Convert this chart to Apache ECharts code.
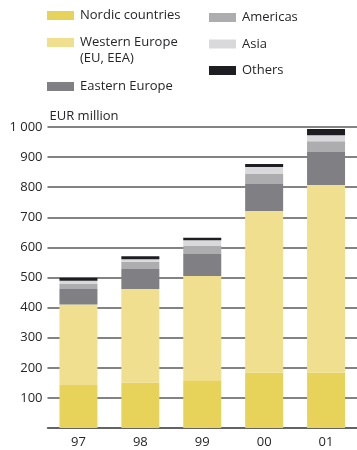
<!DOCTYPE html>
<html>
<head>
<meta charset="utf-8">
<script src="https://cdn.jsdelivr.net/npm/echarts@6/dist/echarts.min.js"></script>
<style>
  html, body { margin: 0; padding: 0; background: #fff; }
  #chart { width: 357px; height: 450px; }
</style>
</head>
<body>
<div id="chart"></div>
<script>
// Net sales by market area, EUR million
const years = ['97', '98', '99', '00', '01'];
const nordic = [143, 150, 159, 184, 184];
const westernEurope = [267, 312, 346, 537, 623];
const easternEurope = [52, 66, 73, 90, 110];
const americas = [16, 24, 27, 33, 36];
const asia = [11, 9, 19, 23, 20];
const others = [10, 10, 8, 10, 20];
const yTicks = [0, 100, 200, 300, 400, 500, 600, 700, 800, 900, 1000];

const FONT = 'Open Sans';
const TEXT = '#26262a';

const seriesDefs = [
  { name: 'Nordic countries', data: nordic, color: '#e8d35a' },
  { name: 'Western Europe', data: westernEurope, color: '#f0df8f' },
  { name: 'Eastern Europe', data: easternEurope, color: '#808084' },
  { name: 'Americas', data: americas, color: '#adadb0' },
  { name: 'Asia', data: asia, color: '#d9d9db' },
  { name: 'Others', data: others, color: '#1e1e22' }
];

function legendBlock(names, left, top, gap) {
  return {
    show: true,
    orient: 'vertical',
    left: left,
    top: top,
    padding: 0,
    itemGap: gap,
    itemWidth: 27,
    itemHeight: 9,
    icon: 'rect',
    selectedMode: false,
    data: names,
    textStyle: { fontFamily: FONT, fontSize: 13, color: TEXT, padding: [0, 0, 0, 1] }
  };
}

const chart = echarts.init(document.getElementById('chart'), null, { renderer: 'canvas' });

chart.setOption({
  animation: false,
  backgroundColor: '#fff',
  legend: [
    legendBlock(['Nordic countries'], 47, 9, 0),
    legendBlock(['Western Europe'], 47, 36, 0),
    legendBlock(['Eastern Europe'], 47, 80, 0),
    legendBlock(['Americas', 'Asia', 'Others'], 209, 11, 13.5)
  ],
  graphic: [
    {
      type: 'text',
      left: 80,
      top: 52,
      style: { text: '(EU, EEA)', fontFamily: FONT, fontSize: 13, fill: TEXT }
    }
  ],
  grid: { left: 47.5, right: -4, top: 127, bottom: 22, containLabel: false },
  xAxis: {
    type: 'category',
    data: years,
    axisLine: { show: true, lineStyle: { color: '#5a5a5a', width: 1.5 } },
    axisTick: { show: false },
    axisLabel: { fontFamily: FONT, fontSize: 13, color: TEXT, margin: 8 }
  },
  yAxis: {
    type: 'value',
    min: yTicks[0],
    max: yTicks[yTicks.length - 1],
    interval: 100,
    name: 'EUR million',
    nameLocation: 'end',
    nameGap: 4,
    nameTextStyle: { fontFamily: FONT, fontSize: 13, color: TEXT, align: 'left', padding: [0, 0, 0, 2] },
    axisLine: { show: false },
    axisTick: { show: false },
    axisLabel: {
      fontFamily: FONT, fontSize: 13, color: TEXT, margin: 5,
      formatter: v => v === 0 ? '' : (v >= 1000 ? '1 000' : String(v))
    },
    splitLine: { show: true, lineStyle: { color: '#5a5a5a', width: 1.5 } }
  },
  series: seriesDefs.map(s => ({
    name: s.name,
    type: 'bar',
    stack: 'total',
    data: s.data,
    barWidth: 38,
    itemStyle: { color: s.color },
    emphasis: { disabled: true }
  }))
});
</script>
</body>
</html>
